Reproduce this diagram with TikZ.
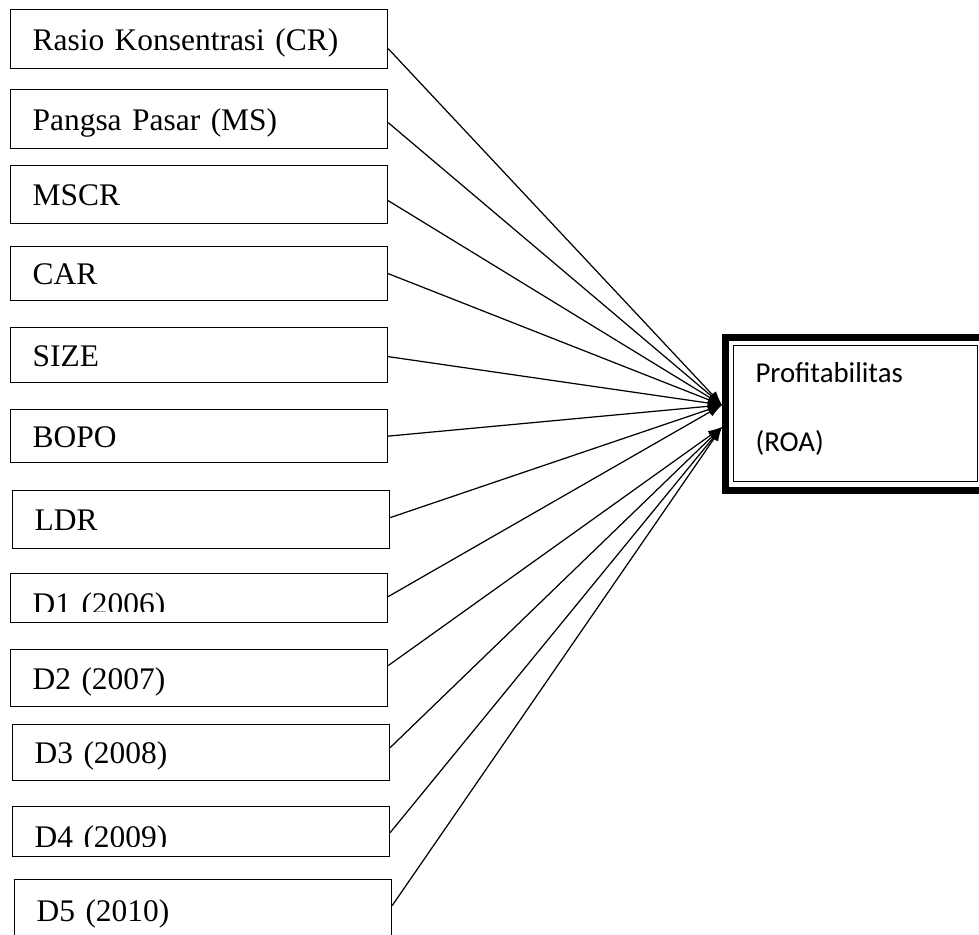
\documentclass[tikz,border=0pt]{standalone}
\usepackage{fontspec}
\setmainfont{Liberation Serif}
\newfontfamily\calibri{Carlito}
\usetikzlibrary{arrows.meta, calc}

\begin{document}
\begin{tikzpicture}[
    x=0.02cm, y=-0.02cm,
    vbox/.style={rectangle, draw, line width=0.7pt, anchor=north west, minimum width=7.54cm, text width=6.66cm, inner xsep=0.44cm, inner ysep=0pt, align=left, text height=13.5pt, text depth=1pt, font=\fontsize{17.9pt}{20pt}\selectfont},
    target/.style={rectangle, draw, line width=0.6pt, anchor=north west, minimum width=4.88cm, minimum height=2.72cm, text width=4.0cm, inner xsep=0.44cm, align=left, text height=12pt, text depth=47pt, font=\calibri\fontsize{16.4pt}{39pt}\selectfont},
    link/.style={-{Latex[length=2.8mm, width=2mm]}, line width=0.7pt}
]
\useasboundingbox (0,0) rectangle (979,934);

% independent variables
\node[vbox, minimum height=1.18cm] (cr) at (10,9) {Rasio Konsentrasi (CR)};
\node[vbox, minimum height=1.18cm] (ms) at (10,89) {Pangsa Pasar (MS)};
\node[vbox, minimum height=1.16cm] (mscr) at (10,165) {MSCR};
\node[vbox, minimum height=1.08cm] (car) at (10,246) {CAR};
\node[vbox, minimum height=1.10cm] (size) at (10,327) {SIZE};
\node[vbox, minimum height=1.06cm] (bopo) at (10,409) {BOPO};
\node[vbox, minimum height=1.16cm] (ldr) at (12,490) {LDR};
\node[vbox, minimum height=0.98cm, text height=19.1pt] (d1) at (10,573) {D1 (2006)};
\node[vbox, minimum height=1.14cm] (d2) at (10,649) {D2 (2007)};
\node[vbox, minimum height=1.12cm] (d3) at (12,724) {D3 (2008)};
\node[vbox, minimum height=1.00cm, text height=19.1pt] (d4) at (12,806) {D4 (2009)};
\node[vbox, minimum height=1.22cm] (d5) at (14,879) {D5 (2010)};

% cut-off text at the bottom of two boxes
\fill[white] ($(d1.south west)+(1,-1)$) rectangle ($(d1.south east)+(-1,-11)$);
\fill[white] ($(d4.south west)+(1,-1)$) rectangle ($(d4.south east)+(-1,-10)$);

% dependent variable
\node[target] (roa) at (733,345) {Profitabilitas\\(ROA)};
\draw[line width=0.14cm] ($(roa.north west)+(-7.5,-7.5)$) rectangle ($(roa.south east)+(7.5,8.5)$);

\coordinate (tipA) at (722,405);
\coordinate (tipB) at (722,427);

% links
\foreach \src/\dy in {cr/9.5, ms/3.5, mscr/6, car/0, size/1.5, bopo/0, ldr/-2, d1/-1.5}
    \draw[link] ($(\src.east)+(0,\dy)$) -- (tipA);
\foreach \src/\dy in {d2/-12.5, d3/-5, d4/1, d5/-4.5}
    \draw[link] ($(\src.east)+(0,\dy)$) -- (tipB);

\end{tikzpicture}
\end{document}
